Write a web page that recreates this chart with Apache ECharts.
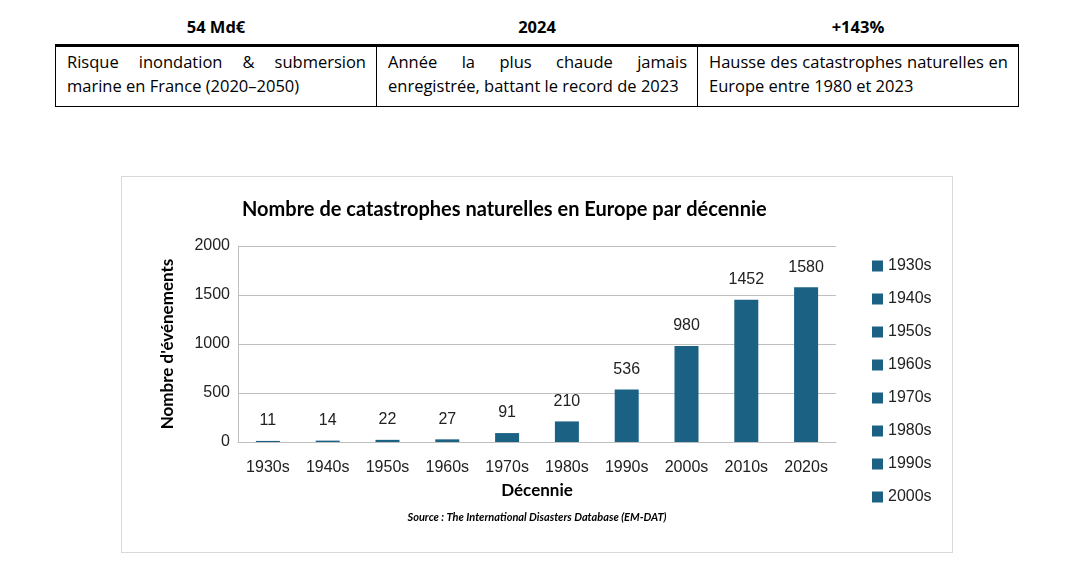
<!DOCTYPE html>
<html><head><meta charset="utf-8">
<script src="https://cdn.jsdelivr.net/npm/echarts@6/dist/echarts.min.js"></script>
<style>
body{margin:0;background:#fff;font-family:"Open Sans",Arial,sans-serif;width:1084px;height:576px;position:relative;overflow:hidden}
#tbl{position:absolute;left:55px;top:8px;width:964px;border-collapse:collapse;font-size:16.5px;color:#000}
#tbl th{font-weight:bold;text-align:center;height:36px;padding:0;border-bottom:3px solid #000}
#tbl td{border:1px solid #000;vertical-align:top;text-align:justify;padding:3px 10px 8px 11px;line-height:24px;width:33.3%}
#box{position:absolute;left:121px;top:176px;width:830px;height:375px;border:1px solid #d9d9d9}
#chart{width:830px;height:375px}
</style></head><body>
<table id="tbl"><tr><th>54 Md€</th><th>2024</th><th>+143%</th></tr>
<tr><td>Risque inondation &amp; submersion marine en France (2020–2050)</td>
<td>Année la plus chaude jamais enregistrée, battant le record de 2023</td>
<td>Hausse des catastrophes naturelles en Europe entre 1980 et 2023</td></tr></table>
<div id="box"><div id="chart"></div></div>
<script>
const categories=['1930s','1940s','1950s','1960s','1970s','1980s','1990s','2000s','2010s','2020s'];
const values=[11,14,22,27,91,210,536,980,1452,1580];
const legendItems=['1930s','1940s','1950s','1960s','1970s','1980s','1990s','2000s'];
const yTicks={min:0,max:2000,interval:500};
const c=echarts.init(document.getElementById('chart'));
const col='#1b6184';
const f='"Liberation Sans",Arial,sans-serif';
c.setOption({
 color:[col],
 title:{text:'Nombre de catastrophes naturelles en Europe par décennie',left:115,top:18,textStyle:{fontFamily:'Lato,sans-serif',fontSize:20,fontWeight:'bold',color:'#000'}},
 legend:{data:legendItems,orient:'vertical',left:745,top:76,itemGap:17,itemWidth:11,itemHeight:11,icon:'rect',textStyle:{fontSize:16,color:'#222',fontFamily:f}},
 grid:{left:116,right:116,top:69,bottom:110,containLabel:false},
 xAxis:{type:'category',data:categories,name:'Décennie',nameLocation:'middle',nameGap:40,nameTextStyle:{fontFamily:'Lato,sans-serif',fontWeight:'bold',fontSize:17,color:'#000'},axisTick:{show:false},axisLine:{lineStyle:{color:'#bfbfbf'}},axisLabel:{fontSize:16,color:'#222',margin:18,fontFamily:f}},
 yAxis:{type:'value',...yTicks,name:"Nombre d'événements",nameLocation:'middle',nameGap:62,nameTextStyle:{fontFamily:'Lato,sans-serif',fontWeight:'bold',fontSize:17,color:'#000'},axisLabel:{fontSize:16,color:'#222',fontFamily:f,formatter:v=>String(v)},splitLine:{lineStyle:{color:'#bfbfbf'}},axisLine:{show:true,lineStyle:{color:'#bfbfbf'}}},
 graphic:[{type:'text',left:'center',top:335,style:{text:'Source : The International Disasters Database (EM-DAT)',font:'italic bold 11px Lato,sans-serif',fill:'#000'}}],
 series:[{type:'bar',name:'values',barWidth:24,data:values,label:{show:true,position:'top',distance:12,fontSize:16,color:'#222',fontFamily:f}}]
  .concat(legendItems.map(n=>({type:'line',name:n,data:[],itemStyle:{color:col}})))
});
</script></body></html>
